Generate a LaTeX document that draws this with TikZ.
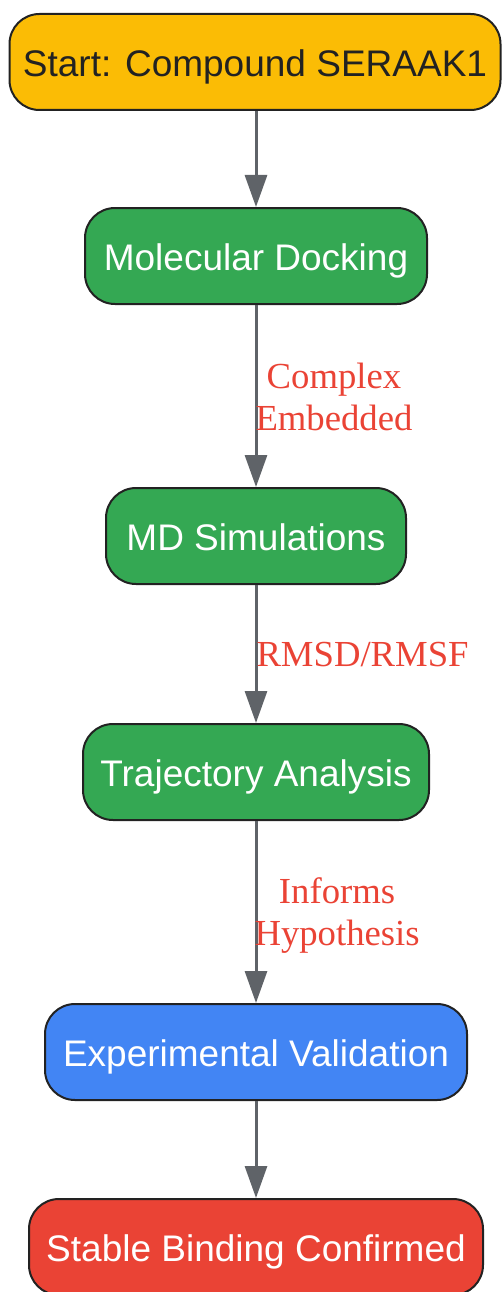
\documentclass[tikz,border=0pt]{standalone}
\usepackage{fontspec}
\setmainfont{Liberation Serif}
\setsansfont{Liberation Sans}
\usetikzlibrary{arrows.meta}
\definecolor{cyellow}{HTML}{FBBC05}
\definecolor{cgreen}{HTML}{34A853}
\definecolor{cblue}{HTML}{4285F4}
\definecolor{cred}{HTML}{EA4335}
\definecolor{cline}{HTML}{5F6368}
\definecolor{cborder}{HTML}{222222}
\tikzset{
  flowbox/.style={draw=cborder, line width=2pt, rounded corners=30pt, minimum height=96pt,
    inner sep=0pt, text height=32pt, text depth=3pt,
    font=\sffamily\fontsize{37}{42}\selectfont, text=white, anchor=center},
  flowarrow/.style={draw=cline, line width=3pt, -{Triangle[length=32pt,width=22pt]}},
  flowlabel/.style={font=\rmfamily\fontsize{36.7}{42}\selectfont, text=cred, align=center, anchor=west, inner sep=0pt}
}
\begin{document}
\begin{tikzpicture}[x=1pt,y=-1pt]
\useasboundingbox (0,0) rectangle (501,1292);
\node[flowbox, fill=cyellow, text=cborder, minimum width=491pt] (start) at (255,62) {Start: Compound SERAAK1};
\node[flowbox, fill=cgreen, minimum width=342pt] (dock) at (256,256) {Molecular Docking};
\node[flowbox, fill=cgreen, minimum width=300pt] (md) at (256,536) {MD Simulations};
\node[flowbox, fill=cgreen, minimum width=346pt] (traj) at (256,772) {Trajectory Analysis};
\node[flowbox, fill=cblue, minimum width=422pt] (exp) at (256,1052) {Experimental Validation};
\node[flowbox, fill=cred, minimum width=454pt] (stable) at (256,1247) {Stable Binding Confirmed};
\draw[flowarrow] (start.south -| 256,0) -- (dock.north);
\draw[flowarrow] (dock) -- (md) node[flowlabel, pos=0.5, xshift=-2pt, yshift=-1pt] (l1) {Complex\\Embedded};
\draw[flowarrow] (md) -- (traj) node[flowlabel, pos=0.5, xshift=-1pt, yshift=-1pt] (l2) {RMSD/RMSF};
\draw[flowarrow] (traj) -- (exp) node[flowlabel, pos=0.5, xshift=-3pt, yshift=-4pt] (l3) {Informs\\Hypothesis};
\draw[flowarrow] (exp) -- (stable);
\end{tikzpicture}
\end{document}
